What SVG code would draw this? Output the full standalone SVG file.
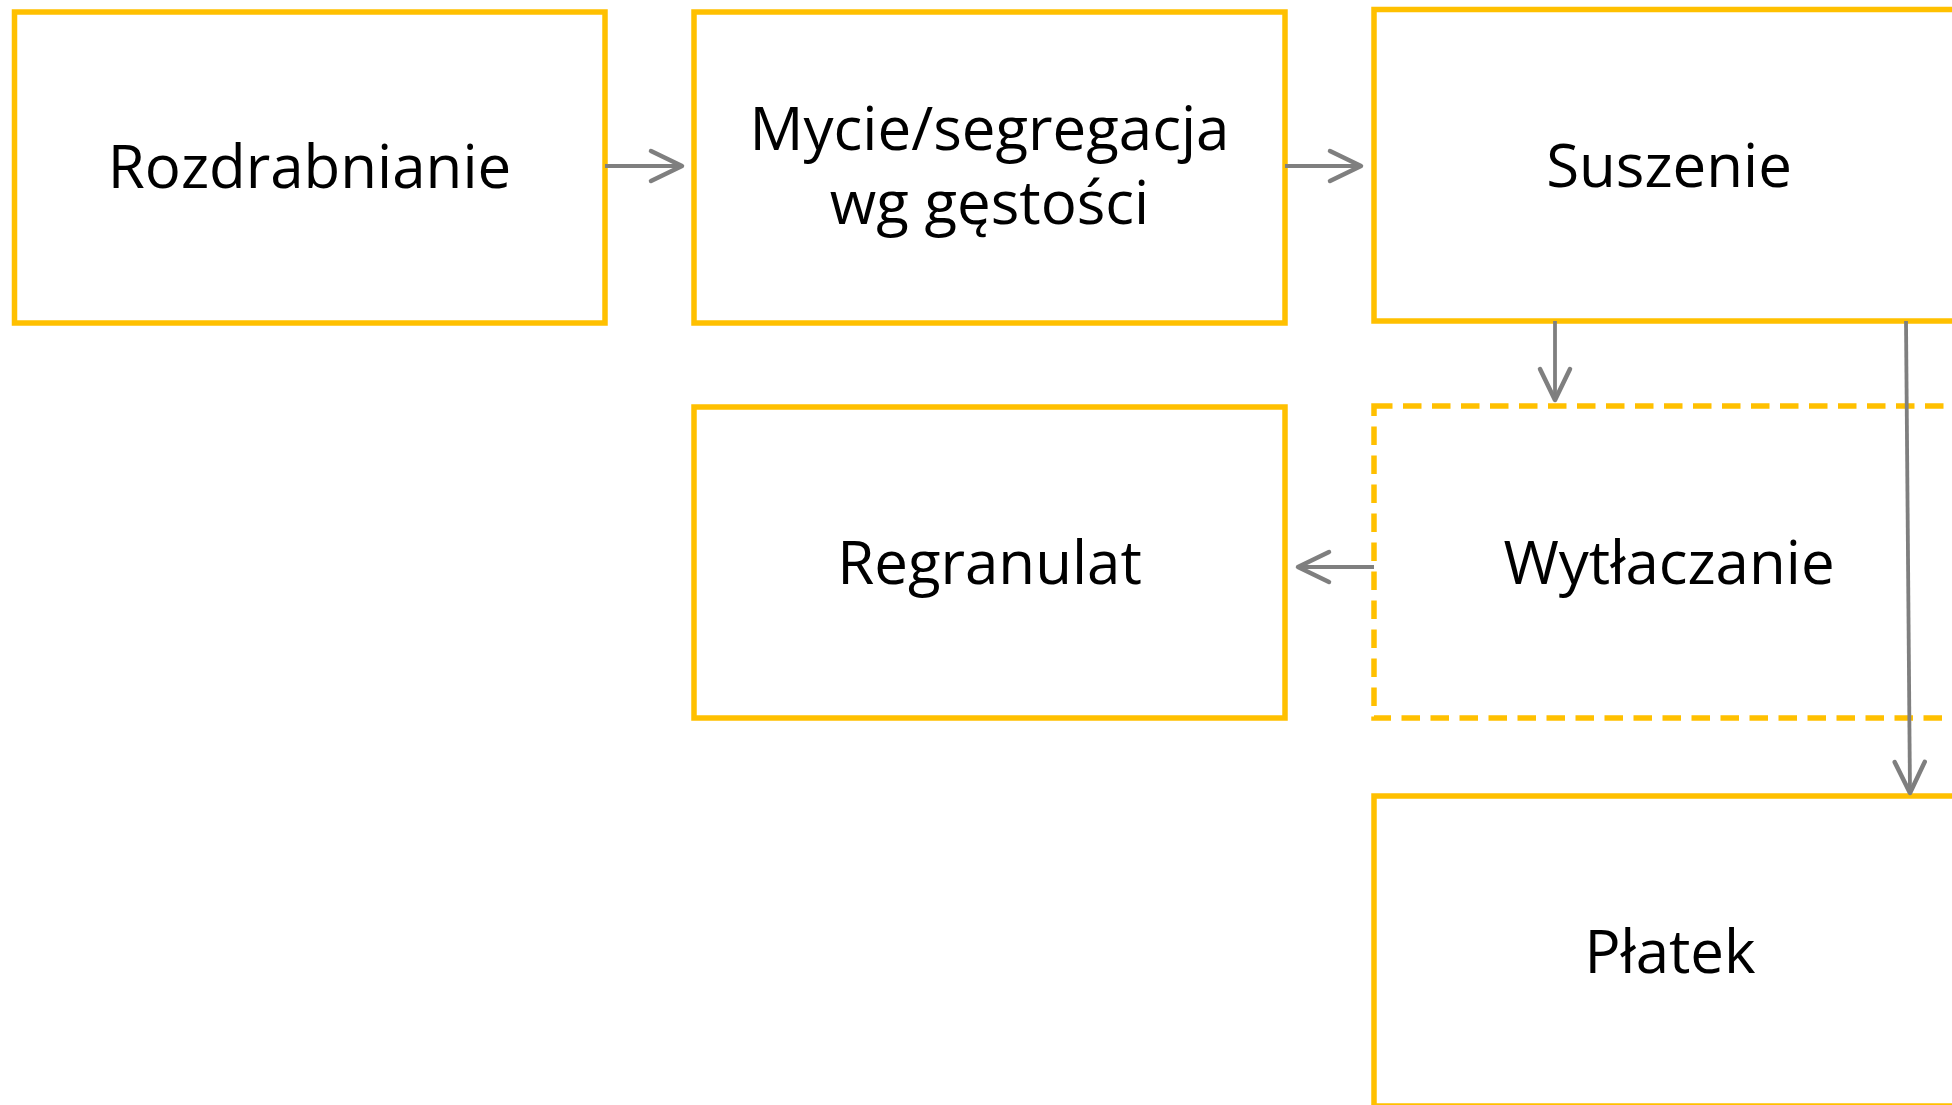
<svg xmlns="http://www.w3.org/2000/svg" width="1952" height="1105" viewBox="0 0 1952 1105">
<style>
.box{fill:#fff;stroke:#FFC000;stroke-width:5.5}
.dash{stroke-dasharray:18.5 10.5}
.lbl{font-family:"Open Sans","Noto Sans","DejaVu Sans",sans-serif;font-size:60px;fill:#000;text-anchor:middle}
.conn{fill:none;stroke:#7F7F7F;stroke-width:3.8}
</style>
<defs>
<marker id="arr" markerUnits="userSpaceOnUse" viewBox="-36 -20 40 40" markerWidth="40" markerHeight="40" refX="0" refY="0" orient="auto" overflow="visible">
<path d="M-31 -15 L0 0 L-31 15" fill="none" stroke="#7F7F7F" stroke-width="4.5" stroke-linecap="round" stroke-linejoin="round"/>
</marker>
</defs>
<rect width="1952" height="1105" fill="#fff"/>
<g id="n-rozdrabnianie">
<rect class="box" x="14.5" y="12" width="590.5" height="311"/>
<text class="lbl" x="309.5" y="188">Rozdrabnianie</text>
</g>
<g id="n-mycie">
<rect class="box" x="694" y="12" width="591" height="311"/>
<text class="lbl" x="989.5" y="150">Mycie/segregacja</text>
<text class="lbl" x="989.5" y="224">wg gęstości</text>
</g>
<g id="n-suszenie">
<rect class="box" x="1374" y="9.5" width="592" height="311.5"/>
<text class="lbl" x="1669" y="187">Suszenie</text>
</g>
<g id="n-regranulat">
<rect class="box" x="694" y="407" width="591" height="311"/>
<text class="lbl" x="989.5" y="584">Regranulat</text>
</g>
<g id="n-wytlaczanie">
<rect class="box dash" x="1374" y="406" width="592" height="312"/>
<text class="lbl" x="1669" y="584">Wytłaczanie</text>
</g>
<g id="n-platek">
<rect class="box" x="1374" y="796" width="592" height="310"/>
<text class="lbl" x="1670" y="973">Płatek</text>
</g>
<g id="connectors">
<path class="conn" d="M605 166 L682 166" marker-end="url(#arr)"/>
<path class="conn" d="M1285 166 L1361 166" marker-end="url(#arr)"/>
<path class="conn" d="M1555 321 L1555 400" marker-end="url(#arr)"/>
<path class="conn" d="M1374 567 L1298 567" marker-end="url(#arr)"/>
<path class="conn" d="M1906 321 L1910 793" marker-end="url(#arr)"/>
</g>
</svg>
